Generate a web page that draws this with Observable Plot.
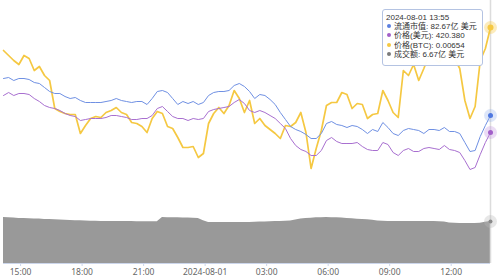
<!DOCTYPE html>
<html><head><meta charset="utf-8">
<script src="https://cdn.jsdelivr.net/npm/d3@7"></script>
<script src="https://cdn.jsdelivr.net/npm/@observablehq/plot@0.6"></script>
<style>
body{margin:0;background:#fff;}
#wrap{position:relative;width:500px;height:278px;overflow:hidden;font-family:"Noto Sans CJK SC","Noto Sans",sans-serif;}
#wrap svg{position:absolute;left:0;top:0;}
#tip{position:absolute;left:382px;top:9px;width:94px;height:52px;background:rgba(255,255,255,0.97);border:1px solid #b4c3e2;border-radius:3px;font-family:"Liberation Sans","Noto Sans CJK SC",sans-serif;font-size:8px;color:#333;line-height:9.2px;padding:3px 2px 0 3px;white-space:nowrap;}
#tip div{height:9.2px;}
#tip .dot{display:inline-block;width:4px;height:4px;border-radius:50%;margin:0 3px 0 1px;vertical-align:1px;}
</style></head>
<body><div id="wrap"></div>
<script>
// ---- data ----
const startTime = new Date(2024, 6, 31, 14, 10);
const stepMinutes = 15;
const marketCap = [86.37,86.47,86.17,86.37,86.37,86.27,85.97,85.87,85.47,85.07,84.87,84.87,84.57,84.37,84.47,84.17,83.97,83.97,83.97,83.97,84.07,84.17,84.37,84.17,84.07,83.97,84.07,84.07,83.77,84.37,85.07,85.17,84.97,84.37,83.77,84.07,83.87,84.07,83.77,83.97,84.67,84.97,85.07,85.07,85.17,85.67,85.87,85.57,85.07,84.37,84.77,84.67,84.27,83.77,82.97,82.27,81.57,81.27,81.07,80.77,80.37,80.37,80.87,81.87,82.07,81.77,81.67,81.47,81.67,81.57,81.27,80.87,81.27,81.07,81.97,81.47,80.87,80.67,81.17,81.37,81.27,81.17,80.87,81.27,81.27,81.17,81.47,81.07,81.07,80.87,79.97,79.07,79.17,80.57,81.67,82.67];
const priceUSD = [438.88,440.38,438.88,439.88,439.88,439.38,437.38,435.88,433.88,432.88,432.38,431.38,429.88,428.88,428.38,426.38,426.88,427.38,427.38,427.38,427.88,428.88,428.88,428.38,427.88,426.88,426.88,427.38,427.38,428.88,432.38,433.38,430.88,428.38,427.38,427.38,426.38,427.38,426.88,427.38,430.88,431.88,432.38,432.88,433.38,435.38,436.88,434.88,431.38,430.38,431.38,430.38,428.88,427.38,424.88,422.38,417.38,413.88,411.88,410.88,408.88,408.88,411.38,416.38,417.88,415.88,414.88,414.88,414.88,415.38,413.38,411.88,411.38,411.38,415.38,414.38,410.38,408.88,411.38,412.38,410.88,410.88,412.38,412.88,412.38,411.88,413.88,411.88,411.38,410.38,406.38,401.88,402.88,409.38,415.38,420.38];
const priceBTC = [0.006494,0.006484,0.006474,0.006466,0.006484,0.006478,0.006454,0.006462,0.006444,0.006434,0.006378,0.006372,0.006368,0.006366,0.006366,0.006328,0.006344,0.006358,0.006362,0.006360,0.006370,0.006374,0.006380,0.006370,0.006366,0.006350,0.006348,0.006342,0.006330,0.006358,0.006372,0.006368,0.006342,0.006338,0.006320,0.006300,0.006300,0.006302,0.006280,0.006288,0.006348,0.006368,0.006380,0.006368,0.006384,0.006414,0.006398,0.006370,0.006394,0.006348,0.006358,0.006344,0.006336,0.006328,0.006318,0.006344,0.006342,0.006350,0.006370,0.006330,0.006258,0.006298,0.006334,0.006384,0.006390,0.006390,0.006410,0.006406,0.006378,0.006388,0.006386,0.006358,0.006366,0.006368,0.006414,0.006394,0.006370,0.006360,0.006454,0.006444,0.006466,0.006434,0.006458,0.006484,0.006478,0.006470,0.006488,0.006490,0.006478,0.006458,0.006394,0.006358,0.006382,0.006474,0.006498,0.006540];
const volume = [7.30,7.28,7.22,7.15,7.15,7.10,7.05,7.05,7.00,6.99,6.95,6.90,6.87,6.83,6.80,6.78,6.75,6.72,6.70,6.67,6.67,6.66,6.66,6.65,6.65,6.65,6.64,6.64,6.64,6.63,6.63,7.30,7.28,7.26,7.25,7.23,7.21,7.19,7.15,6.80,6.51,6.52,6.52,6.51,6.51,6.51,6.51,6.51,6.51,6.55,6.58,6.60,6.64,6.67,6.68,6.70,6.74,6.90,7.08,7.15,7.20,7.25,7.28,7.30,7.28,7.25,7.22,7.15,7.10,7.02,6.99,6.95,6.85,6.76,6.70,6.67,6.66,6.67,6.66,6.67,6.66,6.66,6.65,6.65,6.65,6.63,6.60,6.45,6.38,6.36,6.35,6.35,6.37,6.40,6.55,6.67];
const tickTimes = ["2024-07-31 15:00","2024-07-31 18:00","2024-07-31 21:00","2024-08-01 00:00","2024-08-01 03:00","2024-08-01 06:00","2024-08-01 09:00","2024-08-01 12:00"];
const tickLabels = ["15:00","18:00","21:00","2024-08-01","03:00","06:00","09:00","12:00"];
const tipTitle = "2024-08-01 13:55";
const tipRows = [
  {label:"流通市值", value:"82.67亿 美元", color:"#5b7fe0"},
  {label:"价格(美元)", value:"420.380", color:"#a25fc9"},
  {label:"价格(BTC)", value:"0.00654", color:"#f5c842"},
  {label:"成交额", value:"6.67亿 美元", color:"#7a7a7a"}
];

// ---- build ----
const parse = d3.timeParse("%Y-%m-%d %H:%M");
const times = marketCap.map((_, i) => d3.timeMinute.offset(startTime, i * stepMinutes));
const rows = times.map((t, i) => ({t, cap: marketCap[i], usd: priceUSD[i], btc: priceBTC[i], vol: volume[i]}));
const last = rows[rows.length - 1];
const ticks = tickTimes.map(parse);
const labelOf = new Map(ticks.map((d, i) => [+d, tickLabels[i]]));
const xDomain = [times[0], times[times.length - 1]];

const base = {width: 500, height: 278, marginLeft: 3, marginRight: 10, marginTop: 0, marginBottom: 15,
  x: {type: "time", domain: xDomain, axis: null, label: null}, style: {background: "transparent", overflow: "visible"}};

const wrap = document.getElementById("wrap");

// volume + axis
wrap.appendChild(Plot.plot({...base,
  y: {domain: [0, 41.76], axis: null},
  marks: [
    Plot.areaY(rows, {x: "t", y: "vol", fill: "#999999"}),
    Plot.ruleY([0], {stroke: "#ccd6eb"}),
    Plot.axisX({ticks, label: null, tickFormat: d => labelOf.get(+d) ?? "", tickSize: 3, tickPadding: 2, stroke: "#ccd6eb", fill: "#666", fontSize: 8.5, fontFamily: "Noto Sans, sans-serif"}),
    Plot.ruleX([last], {x: "t", stroke: "#dcdcdc", strokeWidth: 1.5})
  ]
}));

// BTC price
wrap.appendChild(Plot.plot({...base,
  y: {domain: [0.006068, 0.006594], axis: null},
  marks: [Plot.lineY(rows, {x: "t", y: "btc", stroke: "#f5c842", strokeWidth: 1.7})]
}));

// USD price
wrap.appendChild(Plot.plot({...base,
  y: {domain: [354.88, 486.38], axis: null},
  marks: [Plot.lineY(rows, {x: "t", y: "usd", stroke: "#a86fd0", strokeWidth: 1})]
}));

// market cap
wrap.appendChild(Plot.plot({...base,
  y: {domain: [67.87, 94.17], axis: null},
  marks: [Plot.lineY(rows, {x: "t", y: "cap", stroke: "#6f90e3", strokeWidth: 1})]
}));

// hover dots
const dotSpecs = [
  {key: "vol", domain: [0, 41.76], color: "#8a8a8a", halo: "#bbbbbb", r: 2},
  {key: "btc", domain: [0.006068, 0.006594], color: "#f5c842", halo: "#f5c842", r: 3},
  {key: "usd", domain: [354.88, 486.38], color: "#a25fc9", halo: "#c79ae2", r: 2.5},
  {key: "cap", domain: [67.87, 94.17], color: "#4f78e0", halo: "#9fb6ef", r: 2.5}
];
for (const s of dotSpecs) {
  wrap.appendChild(Plot.plot({...base,
    y: {domain: s.domain, axis: null},
    marks: [
      Plot.dot([last], {x: "t", y: s.key, r: 6.5, fill: s.halo, fillOpacity: 0.35}),
      Plot.dot([last], {x: "t", y: s.key, r: s.r, fill: s.color})
    ]
  }));
}

// tooltip
const tip = document.createElement("div");
tip.id = "tip";
tip.innerHTML = `<div>${tipTitle}</div>` + tipRows.map(r =>
  `<div><span class="dot" style="background:${r.color}"></span>${r.label}: ${r.value}</div>`).join("");
wrap.appendChild(tip);
</script>
</body></html>
